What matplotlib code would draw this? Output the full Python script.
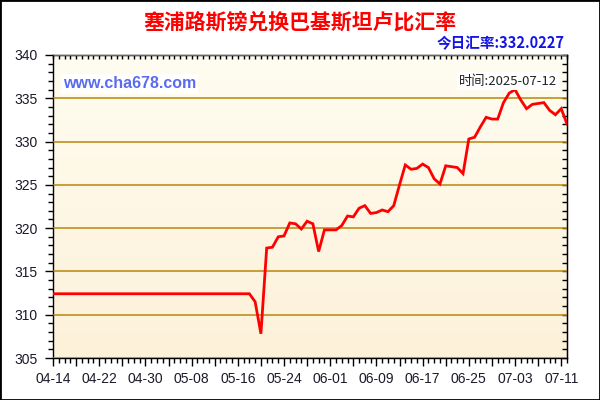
import matplotlib
matplotlib.use("Agg")
import matplotlib.pyplot as plt
import numpy as np
import pandas as pd
from matplotlib.ticker import MultipleLocator, FuncFormatter
from matplotlib.colors import LinearSegmentedColormap
from matplotlib.patches import Rectangle

# exchange rate series (2025)
dates = ["04-14", "05-18", "05-19", "05-20", "05-21", "05-22", "05-23", "05-24",
         "05-25", "05-26", "05-27", "05-28", "05-29", "05-30", "05-31", "06-01",
         "06-02", "06-03", "06-04", "06-05", "06-06", "06-07", "06-08", "06-09",
         "06-10", "06-11", "06-12", "06-13", "06-14", "06-15", "06-16", "06-17",
         "06-18", "06-19", "06-20", "06-21", "06-22", "06-23", "06-24", "06-25",
         "06-26", "06-27", "06-28", "06-29", "06-30", "07-01", "07-02", "07-03",
         "07-04", "07-05", "07-06", "07-07", "07-08", "07-09", "07-10", "07-11",
         "07-12"]
rates = [312.42, 312.42, 311.5, 307.8, 317.7, 317.8, 319.0, 319.1,
         320.6, 320.5, 319.9, 320.8, 320.5, 317.3, 319.8, 319.8,
         319.8, 320.3, 321.4, 321.3, 322.3, 322.6, 321.7, 321.8,
         322.1, 321.9, 322.6, 325.0, 327.3, 326.8, 326.9, 327.4,
         327.0, 325.7, 325.1, 327.2, 327.1, 327.0, 326.3, 330.3,
         330.5, 331.7, 332.8, 332.6, 332.6, 334.5, 335.6, 336.0,
         334.8, 333.8, 334.3, 334.4, 334.5, 333.6, 333.1, 333.8,
         332.0227]

title = "塞浦路斯镑兑换巴基斯坦卢比汇率"
today_rate = "今日汇率:332.0227"
site = "www.cha678.com"
stamp = "时间:2025-07-12"

start = pd.Timestamp("2025-04-14")
end = pd.Timestamp("2025-07-12")
days = [(pd.Timestamp("2025-" + d) - start).days for d in dates]
span = (end - start).days

plt.rcParams["font.family"] = ["Liberation Sans", "DejaVu Sans"]

fig = plt.figure(figsize=(6, 4), dpi=100)
ax = fig.add_axes([53 / 600, 1 - 358 / 400, 514 / 600, 303 / 400])

# soft yellow gradient behind the plot
cmap = LinearSegmentedColormap.from_list("bg", ["#FDF1D9", "#FFFDF1"])
grad = np.linspace(0, 1, 256).reshape(-1, 1)
ax.imshow(grad, cmap=cmap, origin="lower", aspect="auto",
          extent=[0, span, 305, 340], zorder=0)

ax.plot(days, rates, color="#FF0000", lw=2, zorder=3, solid_joinstyle="miter")

ax.set_xlim(0, span)
ax.set_ylim(305, 340)

ax.yaxis.set_major_locator(MultipleLocator(5))
ax.yaxis.set_minor_locator(MultipleLocator(1))
ax.xaxis.set_major_locator(MultipleLocator(4))
ax.xaxis.set_minor_locator(MultipleLocator(1))


def date_label(x, pos):
    if int(round(x)) % 8 != 0:
        return ""
    return (start + pd.Timedelta(days=int(round(x)))).strftime("%m-%d")


ax.xaxis.set_major_formatter(FuncFormatter(date_label))

ax.grid(axis="y", which="major", color="#B8860B", lw=1.1, zorder=1)
ax.set_axisbelow(False)

ax.tick_params(which="major", direction="out", length=6, width=1,
               labelsize=10, labelcolor="#1a1a2a")
ax.tick_params(which="minor", direction="out", length=3.5, width=1)
ax.tick_params(axis="y", which="major", pad=5)
ax.tick_params(axis="x", which="major", pad=4)

for s in ax.spines.values():
    s.set_color("black")
    s.set_linewidth(1)

# small inward ticks on top and right edges
top = ax.secondary_xaxis("top")
top.xaxis.set_major_locator(MultipleLocator(1))
top.tick_params(direction="in", length=3, width=1, labeltop=False)
right = ax.secondary_yaxis("right")
right.yaxis.set_major_locator(MultipleLocator(1))
right.tick_params(direction="in", length=3.5, width=1, labelright=False)

fig.text(0.5, 1 - 22 / 400, title, ha="center", va="center", color="#FF0000",
         fontsize=15, fontweight="bold", family=["Noto Sans CJK SC", "DejaVu Sans"])
fig.text(565 / 600, 1 - 43 / 400, today_rate, ha="right", va="center",
         color="#1414E6", fontsize=10.5, fontweight="bold",
         family=["Noto Sans CJK SC", "DejaVu Sans"])
fig.text(63 / 600, 1 - 84 / 400, site, ha="left", va="center", color="#5A6BEF",
         fontsize=11.5, fontweight="bold", zorder=5,
         bbox=dict(facecolor="white", edgecolor="none", pad=1.5))
fig.text(557 / 600, 1 - 81 / 400, stamp, ha="right", va="center", color="#222222",
         fontsize=9.5, zorder=5, family=["Noto Sans CJK SC", "DejaVu Sans"],
         bbox=dict(facecolor="white", edgecolor="none", pad=1.5))

fig.patches.append(Rectangle((0, 0), 1, 1, transform=fig.transFigure, fill=False,
                             edgecolor="black", lw=2))

fig.savefig("out.png", dpi=100)
